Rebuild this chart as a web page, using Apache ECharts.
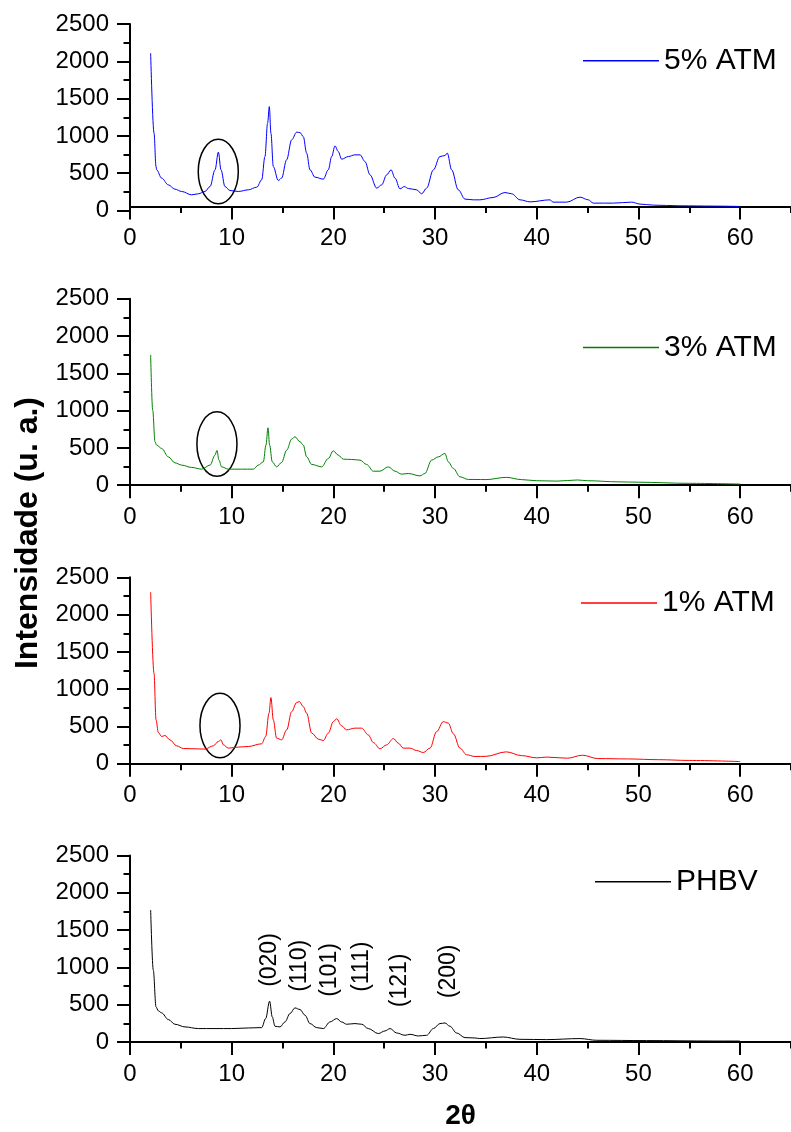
<!DOCTYPE html>
<html>
<head>
<meta charset="utf-8">
<script src="https://cdn.jsdelivr.net/npm/echarts@6/dist/echarts.min.js"></script>
<style>
html, body { margin: 0; padding: 0; background: #fff; }
#main { width: 791px; height: 1132px; }
</style>
</head>
<body>
<div id="main"></div>
<script>
// [2θ, intensidade]
var atm5 = [[2.03,2108],[2.36,1040],[2.56,590],[2.62,545],[3.11,434],[3.77,344],[4.42,286],[5.08,255],[6.06,210],[6.72,224],[7.37,255],[7.87,321],[8.36,545],[8.69,782],[8.95,545],[9.34,321],[9.83,268],[10.65,255],[11.64,277],[12.47,313],[12.95,411],[13.27,723],[13.53,1170],[13.7,1393],[13.86,1036],[14.09,589],[14.58,402],[14.91,434],[15.4,679],[15.9,947],[16.39,1050],[16.72,1044],[17.04,991],[17.37,769],[17.7,545],[18.19,447],[19.01,420],[19.5,545],[19.83,723],[20.16,866],[20.48,790],[20.81,688],[21.47,723],[22.12,746],[22.62,746],[23.11,656],[23.6,478],[24.26,300],[24.75,344],[25.24,478],[25.67,545],[26.06,434],[26.55,290],[26.97,321],[27.37,295],[28.19,277],[28.68,224],[29.17,300],[29.83,545],[30.48,723],[30.97,737],[31.2,769],[31.63,545],[32.28,277],[32.94,153],[33.76,143],[34.4,143],[35.7,174],[36.87,241],[37.53,224],[38.35,143],[39.33,116],[41.3,143],[41.6,112],[42.94,112],[44.25,179],[45.07,143],[45.56,99],[47.53,99],[49.33,112],[50.15,86],[51.46,72],[54.08,63],[57.36,59],[59.98,54]];
var atm3 = [[2.03,1747],[2.23,1008],[2.46,582],[2.62,538],[3.11,493],[3.77,380],[4.42,300],[5.08,269],[6.06,238],[7.05,215],[7.87,269],[8.36,403],[8.55,466],[8.75,336],[9.01,246],[9.67,215],[10.98,215],[12.13,215],[12.62,269],[13.11,313],[13.37,538],[13.57,770],[13.73,538],[13.99,313],[14.42,246],[14.91,305],[15.41,470],[15.9,618],[16.22,649],[16.72,582],[17.04,538],[17.37,380],[17.87,278],[18.85,246],[19.5,358],[19.99,461],[20.48,403],[20.98,349],[21.8,345],[22.62,336],[23.27,278],[23.93,188],[24.58,188],[25.4,246],[26.06,188],[26.71,148],[27.37,157],[28.52,125],[29.0,157],[29.66,336],[30.32,380],[30.97,426],[31.3,313],[31.8,224],[32.45,112],[33.27,77],[33.92,77],[35,75],[37,105],[38.5,75],[40,60],[42,55],[44,70],[45,60],[48,45],[50,40],[55,25],[60,15]];
var atm1 = [[2.03,2299],[2.36,1214],[2.56,589],[2.79,419],[3.11,366],[3.44,379],[3.93,321],[4.59,241],[5.24,205],[6.39,201],[7.37,197],[8.19,241],[8.69,299],[8.95,321],[9.18,254],[9.67,210],[10.65,224],[11.63,232],[12.95,268],[13.34,366],[13.67,679],[13.86,888],[14.09,589],[14.42,344],[14.91,321],[15.41,455],[15.9,700],[16.39,821],[16.65,834],[17.04,767],[17.37,679],[17.87,411],[18.52,331],[19.01,312],[19.5,411],[20.0,566],[20.32,603],[20.81,509],[21.3,455],[22.12,478],[22.78,478],[23.43,388],[23.93,285],[24.58,201],[25.24,254],[25.9,339],[26.38,277],[26.87,210],[27.53,210],[28.19,178],[28.84,151],[29.5,210],[30.16,433],[30.81,566],[31.3,545],[31.8,402],[32.45,210],[33.1,121],[33.92,98],[35,100],[37,160],[38.5,110],[40,80],[41,90],[43,75],[44.5,115],[46,70],[49,65],[52,55],[55,45],[60,30]];
var phbv = [[2.03,1770],[2.29,964],[2.56,470],[2.79,417],[3.11,390],[3.77,301],[4.42,238],[5.41,202],[6.72,180],[8.36,180],[10.0,180],[11.64,188],[12.95,193],[13.34,314],[13.73,547],[13.99,336],[14.26,211],[14.75,202],[15.24,269],[15.73,381],[16.22,457],[16.72,435],[17.21,359],[17.7,247],[18.36,193],[19.01,180],[19.67,269],[20.32,314],[20.81,269],[21.3,238],[22.12,247],[22.78,238],[23.43,180],[24.42,113],[25.07,148],[25.57,180],[26.22,121],[27.04,90],[27.53,103],[28.35,81],[29.17,90],[29.83,180],[30.48,247],[30.97,255],[31.46,211],[32.12,121],[32.94,59],[33.92,54],[34.4,46],[36.7,67],[38.35,36],[40.97,32],[44.25,46],[45.9,23],[50.8,19],[57.36,13],[59.98,13]];

var names = ['5% ATM', '3% ATM', '1% ATM', 'PHBV'];
var colors = ['#0000ff', '#008000', '#ff0000', '#000000'];
var xMajor = [0, 10, 20, 30, 40, 50, 60];
// picos indexados (PHBV): [texto, 2θ, intensidade na base do texto]
var millerLabels = ['(020)', '(110)', '(101)', '(111)', '(121)', '(200)'];
var millerX = [13.77, 16.65, 19.6, 22.8, 26.55, 31.3];
var millerY = [739, 672, 605, 672, 466, 587];
// elipses: painel, 2θ central, intensidade central
var ellipsePanel = [0, 1, 2];
var ellipseX = [8.68, 8.55, 8.85];
var ellipseY = [522, 551, 513];

var font = '"Liberation Sans", Arial, sans-serif';
var allData = [atm5, atm3, atm1, phbv];
var tops = [24, 298.7, 577.3, 855.5];
var legendY = [60.7, 347.5, 603, 881.7];
var legendX = [583, 583, 581, 595];

var myChart = echarts.init(document.getElementById('main'));

var grid = [], xAxis = [], yAxis = [], series = [], legend = [];
tops.forEach(function (top, i) {
	var off = i === 0 ? -4 : 0; // eixo x do 1º painel fica um pouco acima do zero
	grid.push({ left: 130, right: 0, top: top, height: 186.5 });
	xAxis.push({
		gridIndex: i, type: 'value', position: 'bottom', min: 0, max: 65, interval: 10, offset: off,
		axisLine: { onZero: false, lineStyle: { color: '#000', width: 2 } },
		axisTick: { length: 13, customValues: xMajor, lineStyle: { color: '#000', width: 2 } },
		axisLabel: { customValues: xMajor, fontSize: 24, color: '#000', margin: 20, fontFamily: font },
		splitLine: { show: false },
		name: i === 3 ? '2θ' : '',
		nameLocation: 'middle',
		nameGap: 60,
		nameTextStyle: { fontSize: 28, fontWeight: 'bold', color: '#000', fontFamily: font }
	});
	// eixo só para os ticks menores (de 5 em 5)
	xAxis.push({
		gridIndex: i, type: 'value', position: 'bottom', min: 0, max: 65, interval: 5, offset: off,
		axisLine: { show: false, onZero: false },
		axisTick: { length: 6.5, lineStyle: { color: '#000', width: 2 } },
		axisLabel: { show: false },
		splitLine: { show: false }
	});
	yAxis.push({
		gridIndex: i, type: 'value', min: 0, max: 2500, interval: 500,
		axisLine: { show: true, lineStyle: { color: '#000', width: 2 } },
		axisTick: { show: true, length: 13, lineStyle: { color: '#000', width: 2 } },
		minorTick: { show: true, splitNumber: 2, length: 6.5, lineStyle: { color: '#000', width: 2 } },
		axisLabel: { fontSize: 24, color: '#000', margin: 21, fontFamily: font, formatter: function (v) { return String(v); } },
		splitLine: { show: false }
	});
	series.push({
		name: names[i], type: 'line', xAxisIndex: i * 2, yAxisIndex: i,
		data: allData[i], showSymbol: false, symbol: 'none',
		smooth: 0.35, smoothMonotone: 'x',
		lineStyle: { color: colors[i], width: 1 },
		itemStyle: { color: colors[i] },
		animation: false
	});
	legend.push({
		data: [names[i]], left: legendX[i], top: legendY[i] - 15, padding: 0,
		icon: 'rect', itemWidth: 76, itemHeight: 1.5,
		textStyle: { fontSize: 30, color: '#000', fontFamily: font },
		selectedMode: false
	});
});

var option = {
	backgroundColor: '#fff',
	animation: false,
	grid: grid,
	xAxis: xAxis,
	yAxis: yAxis,
	legend: legend,
	series: series
};
myChart.setOption(option);

// textos e elipses posicionados por coordenadas de dados
var graphic = [{
	type: 'text', x: 28, y: 533, rotation: Math.PI / 2,
	style: { text: 'Intensidade (u. a.)', fontSize: 32, fontWeight: 'bold', fontFamily: font, fill: '#000', align: 'center', verticalAlign: 'middle' }
}];
millerLabels.forEach(function (t, k) {
	var p = myChart.convertToPixel({ seriesIndex: 3 }, [millerX[k], millerY[k]]);
	graphic.push({
		type: 'text', x: p[0], y: p[1], rotation: Math.PI / 2,
		style: { text: t, fontSize: 23, fontFamily: font, fill: '#000', align: 'left', verticalAlign: 'middle' }
	});
});
ellipsePanel.forEach(function (s, k) {
	var c = myChart.convertToPixel({ seriesIndex: s }, [ellipseX[k], ellipseY[k]]);
	var e = myChart.convertToPixel({ seriesIndex: s }, [ellipseX[k] + 1.97, ellipseY[k] + 432]);
	graphic.push({
		type: 'ellipse',
		shape: { cx: c[0], cy: c[1], rx: e[0] - c[0], ry: c[1] - e[1] },
		style: { fill: null, stroke: '#000', lineWidth: 1.5 }
	});
});
myChart.setOption({ graphic: graphic });
</script>
</body>
</html>
